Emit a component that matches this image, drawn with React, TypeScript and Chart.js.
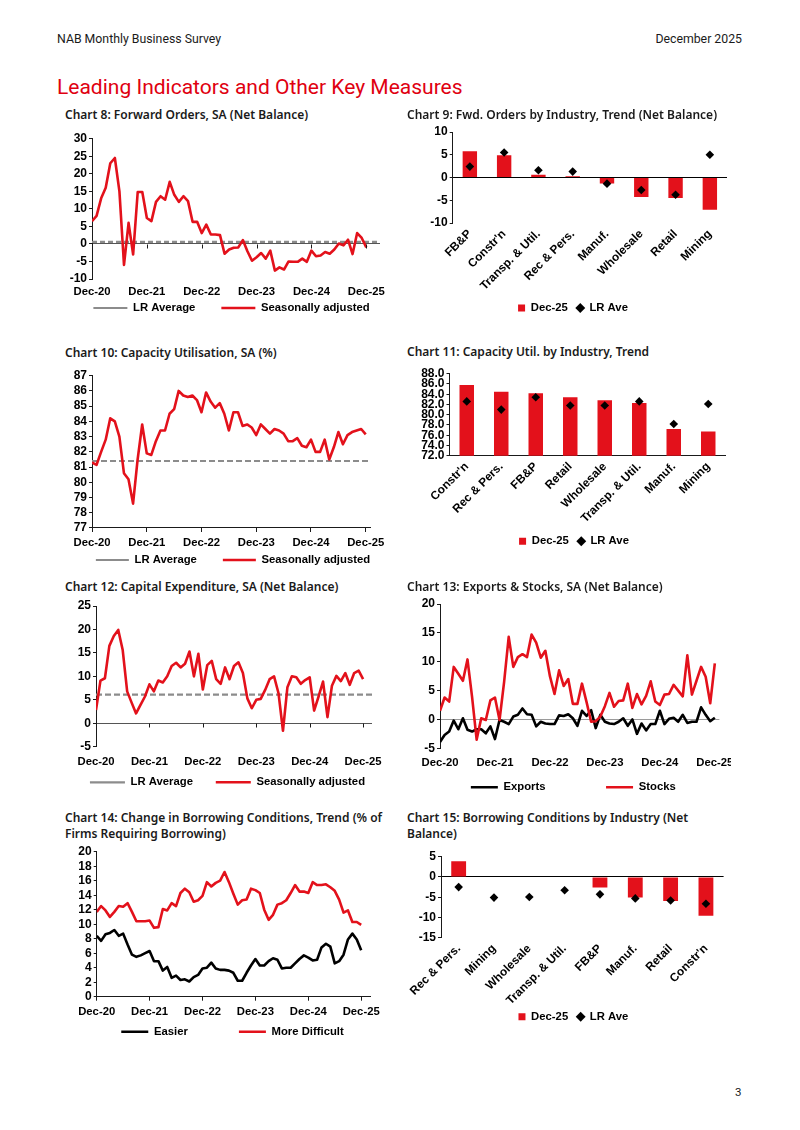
import React, { useEffect, useRef } from 'react';
import { Chart, registerables } from 'chart.js';

Chart.register(...registerables);

// ------------------------------------------------------------------ data
const yearTicks = ['Dec-20', 'Dec-21', 'Dec-22', 'Dec-23', 'Dec-24', 'Dec-25'];

// Chart 8: Forward orders, SA (monthly Dec-20 .. Dec-25)
const fwdOrdersSA = [6.5, 8, 13, 16, 23, 24.5, 15, -6, 6, -3, 14.8, 14.8, 7.4, 6.5, 12, 13.6, 12.6, 17.7, 14, 12,
  13.6, 12.2, 6.3, 6.3, 3.1, 5.5, 2.7, 2.7, 2.5, -2.8, -1.6, -1.1, -1, 1.1, -2.1, -4.8, -3.8, -2.6, -4.2, -1.9,
  -7.6, -6.7, -7.3, -5, -5.1, -5.1, -4.2, -5.1, -1.9, -3.5, -3.3, -2.3, -2.8, -1.6, 0.1, -0.4, 1.2, -2.9, 3.1, 1.7, -1];
const fwdOrdersLRAvg = 0.6;

// Chart 10: Capacity utilisation, SA
const capUtilSA = [81.3, 81.15, 82.0, 82.8, 84.2, 84.0, 83.0, 80.6, 80.2, 78.6, 81.5, 83.8, 81.9, 81.8, 82.7, 83.4, 83.4, 84.5, 84.8, 86.0,
  85.7, 85.6, 85.7, 85.4, 84.6, 85.9, 85.3, 84.9, 85.2, 84.5, 83.4, 84.6, 84.6, 83.7, 83.8, 83.6, 83.1, 83.8, 83.5, 83.2,
  83.5, 83.4, 83.2, 82.7, 82.7, 82.9, 82.4, 82.3, 82.8, 82.0, 82.0, 82.8, 81.5, 82.3, 83.3, 82.5, 83.1, 83.3, 83.4, 83.5, 83.15];
const capUtilLRAvg = 81.4;

// Chart 12: Capital expenditure, SA
const capexSA = [2.8, 9.1, 9.6, 16.5, 18.6, 19.9, 15.6, 6.8, 4.4, 2.1, 3.9, 5.7, 8.3, 6.8, 9.1, 8.7, 10, 12.2, 12.9, 11.9,
  12.7, 15.3, 10, 14.8, 7.2, 12.4, 13.3, 9.4, 8.4, 11.9, 9.4, 12.2, 13, 10.7, 5.3, 3.2, 5, 5.2, 7.1, 9.4,
  10, 6.4, -1.6, 7.7, 10, 9.8, 8.4, 9.2, 9.8, 2.7, 5.7, 8.9, 1.3, 8, 10.1, 9, 10.7, 8.2, 10.7, 11.2, 9.4];
const capexLRAvg = 6.1;

// Chart 13: Exports & stocks, SA
const exportsSA = [-3.9, -2.7, -2.1, -0.2, -1.7, 0.2, -1.8, -2.1, -1.7, -1.7, -2.4, -1.2, -3.4, -0.1, -0.4, -0.8, 0.5, 0.8, 1.9, 0.9,
  0.8, -1.2, -0.4, -0.7, -0.8, -0.8, 0.7, 0.6, 0.9, 0.2, -1.1, 1.5, 0.6, 1.6, -1.5, 0.8, -0.4, -0.7, -0.8, -0.4,
  0.2, -1.1, 0, -2.5, -0.7, -1.9, -0.8, -0.8, 1.5, -0.8, 0.1, 0.3, -0.4, 0.8, -0.6, -0.4, -0.4, 2.1, 0.8, -0.3, 0.3];
const stocksSA = [1.5, 3.8, 3.1, 9.1, 7.9, 6.7, 10.4, 3.9, -3.5, 0.2, -0.1, 3.3, 3.8, -0.1, 6.5, 14.3, 9.1, 10.8, 11.3, 10.8,
  14.7, 13.3, 10.7, 11.9, 7.5, 4.4, 8.5, 5.8, 7.0, 2.7, 2.7, 6.2, 3.0, -0.4, -0.3, 0.5, 2.3, 4.6, 2.2, 3.2,
  3.3, 6.2, 2.0, 4.4, 2.6, 4.1, 6.6, 3.1, 2.5, 4.3, 4.4, 6.0, 5.0, 4.0, 11.1, 4.3, 6.7, 9.1, 7.4, 2.8, 9.7];

// Chart 14: Change in borrowing conditions, trend
const borrowEasier = [8.4, 7.7, 8.6, 8.8, 9.2, 8.4, 8.7, 7.2, 5.8, 5.5, 5.7, 6.0, 6.3, 4.9, 4.9, 3.6, 4.1, 2.6, 2.9, 2.3,
  2.4, 2.1, 2.7, 3.0, 3.9, 4.0, 4.7, 3.9, 3.7, 3.7, 3.6, 3.3, 2.2, 2.2, 3.3, 4.3, 5.2, 4.3, 4.3, 4.9,
  5.3, 5.1, 3.9, 4.0, 4.0, 4.6, 5.2, 5.7, 5.4, 5.0, 5.1, 6.8, 7.3, 6.9, 4.6, 4.9, 5.8, 7.9, 8.7, 7.9, 6.4];
const borrowHarder = [11.7, 12.5, 11.9, 11.0, 11.7, 12.5, 12.4, 12.9, 11.7, 10.4, 10.4, 10.4, 10.5, 9.5, 9.6, 12.1, 11.9, 12.9, 12.5, 14.3,
  14.9, 14.4, 13.1, 13.3, 13.9, 15.8, 15.2, 15.7, 16.0, 17.2, 15.8, 14.2, 12.7, 13.3, 13.4, 14.9, 14.7, 14.3, 12.0, 10.6,
  11.3, 12.7, 12.9, 13.3, 14.3, 15.4, 14.5, 14.5, 14.3, 15.8, 15.4, 15.4, 15.5, 15.1, 14.6, 13.4, 11.6, 11.9, 10.3, 10.3, 9.9];

// Chart 9: Forward orders by industry
const fwdOrdIndustries = ['FB&P', "Constr'n", 'Transp. & Util.', 'Rec & Pers.', 'Manuf.', 'Wholesale', 'Retail', 'Mining'];
const fwdOrdDec25 = [5.75, 4.9, 0.6, 0.3, -1.3, -4.3, -4.5, -7.1];
const fwdOrdLRAve = [2.4, 5.5, 1.6, 1.3, -1.35, -2.75, -3.8, 5.0];

// Chart 11: Capacity utilisation by industry
const capUtilIndustries = ["Constr'n", 'Rec & Pers.', 'FB&P', 'Retail', 'Wholesale', 'Transp. & Util.', 'Manuf.', 'Mining'];
const capUtilDec25 = [85.8, 84.5, 84.2, 83.4, 82.8, 82.3, 77.2, 76.7];
const capUtilLRAve = [82.6, 81.0, 83.4, 81.8, 81.8, 82.6, 78.2, 82.1];

// Chart 15: Borrowing conditions by industry
const borrowIndustries = ['Rec & Pers.', 'Mining', 'Wholesale', 'Transp. & Util.', 'FB&P', 'Manuf.', 'Retail', "Constr'n"];
const borrowDec25 = [3.9, 0, 0, 0, -2.6, -5.1, -5.95, -9.6];
const borrowLRAve = [-2.5, -5.1, -4.95, -3.3, -4.3, -5.3, -5.8, -6.6];

// ------------------------------------------------------------------ style
const RED = '#e3111b';
const AXIS = '#1a1a1a';
const GREY_DASH = '#8c8c8c';
const FAMILY = "'Liberation Sans', Arial, Helvetica, sans-serif";
const FS = 11.3;
const LEG_PAD = 4;
const LINE_W = 2.6;
const TICK_FONT = { family: FAMILY, size: FS, weight: 'bold' as const };
const YTICK_FONT = { family: FAMILY, size: 12, weight: 'bold' as const };
const CAT_FONT = { family: FAMILY, size: 11.8, weight: 'bold' as const };

type Frame = { L: number; T: number; W: number; left: number; right: number; top: number; bottom: number; legendX: number; legendY: number };

// Positions the plot area exactly; the legend is then moved onto its own spot by legendPlacePlugin.
function geometry(f: Frame, pad: number, xH: number) {
  const legendH = FS + pad + 10;
  const H = Math.ceil(Math.max(f.bottom - f.T + xH + legendH, f.legendY - f.T + 10));
  const pb = f.T + H - legendH - xH - f.bottom;
  const pl = 2;
  const yW = f.left - f.L - pl;
  const pr = f.L + f.W - f.right;
  const pt = f.top - f.T;
  return {
    H, yW, xH,
    layout: { autoPadding: false, padding: { left: pl, right: pr, top: pt, bottom: pb } },
    place: { cx: f.legendX - f.L, cy: f.legendY - f.T, pad },
  };
}

const legendPlacePlugin = {
  id: 'legendPlace',
  afterLayout(chart: any, _args: any, opts: any) {
    const lg = chart.legend;
    if (!lg || opts.cx == null) return;
    const dx = opts.cx - (lg.left + lg.right) / 2;
    const dy = opts.cy - (lg.top + opts.pad + FS / 2);
    lg.left += dx; lg.right += dx; lg.top += dy; lg.bottom += dy;
  },
};

// gap: visible distance between the first entry's text and the second entry's symbol
function legendLabels(gap: number, styles?: (string | undefined)[]) {
  const spaces = Math.max(0, Math.round((gap - LEG_PAD) / (FS * 0.278)));
  return (chart: any) => {
    const items = (Chart as any).defaults.plugins.legend.labels.generateLabels(chart);
    items.sort((a: any, b: any) => a.datasetIndex - b.datasetIndex);
    items.forEach((it: any, i: number) => {
      const st = styles && styles[it.datasetIndex];
      if (st) it.pointStyle = st;
      if (i === 0 && items.length > 1) it.text = it.text + ' '.repeat(spaces);
    });
    return items;
  };
}

const zeroTicksPlugin = {
  id: 'zeroTicks',
  afterDatasetsDraw(chart: any, _args: any, opts: any) {
    if (!opts || !opts.length) return;
    const x = chart.scales.x;
    const y = chart.scales.y;
    const y0 = Math.round(y.getPixelForValue(0)) + 0.5;
    const ctx = chart.ctx;
    ctx.save();
    ctx.strokeStyle = opts.color;
    ctx.lineWidth = 1;
    for (const t of x.ticks) {
      const px = Math.round(x.getPixelForValue(t.value)) + 0.5;
      if (px < chart.chartArea.left + 2) continue;
      ctx.beginPath();
      ctx.moveTo(px, y0);
      ctx.lineTo(px, y0 + opts.length);
      ctx.stroke();
    }
    ctx.restore();
  },
};

const toXY = (arr: number[]) => arr.map((v, i) => ({ x: i, y: v }));
const flat = (v: number, xMax: number) => [{ x: 0, y: v }, { x: xMax, y: v }];

type LineSeries = { label: string; data: { x: number; y: number }[]; color: string; width: number; dash?: number[]; order: number };

type LineSpec = {
  frame: Frame; yMin: number; yMax: number; yStep: number; xMax: number; xPad: number;
  bottomAxis: boolean; zeroColor?: string; zeroTicks?: boolean; series: LineSeries[]; gap: number; sampleW: number;
};

function lineConfig(s: LineSpec) {
  const g = geometry(s.frame, LEG_PAD, 22);
  return {
    H: g.H,
    config: {
      type: 'line',
      data: {
        datasets: s.series.map((d) => ({
          label: d.label, data: d.data, borderColor: d.color, backgroundColor: d.color, borderWidth: d.width,
          borderDash: d.dash || [], pointRadius: 0, tension: 0, fill: false, order: d.order, borderJoinStyle: 'round',
        })),
      },
      plugins: [zeroTicksPlugin, legendPlacePlugin],
      options: {
        responsive: false, maintainAspectRatio: false, animation: false,
        layout: g.layout,
        plugins: {
          tooltip: { enabled: false },
          zeroTicks: s.zeroTicks ? { color: AXIS, length: 4 } : { length: 0 },
          legendPlace: g.place,
          legend: {
            display: true, position: 'bottom', align: 'center',
            labels: {
              usePointStyle: true, pointStyle: 'line', pointStyleWidth: s.sampleW, boxWidth: s.sampleW, boxHeight: FS,
              padding: LEG_PAD, color: '#000', font: TICK_FONT, generateLabels: legendLabels(s.gap),
            },
          },
        },
        scales: {
          x: {
            type: 'linear', min: 0, max: s.xMax,
            afterFit: (sc: any) => { sc.height = g.xH; sc.paddingLeft = 0; sc.paddingRight = 0; },
            border: { display: s.bottomAxis, color: AXIS, width: 1 },
            grid: { display: s.bottomAxis, drawOnChartArea: false, drawTicks: s.bottomAxis, tickLength: 4, tickColor: AXIS },
            ticks: {
              stepSize: 12, autoSkip: false, maxRotation: 0, minRotation: 0, includeBounds: false, padding: s.xPad,
              color: '#000', font: TICK_FONT, callback: (v: any) => yearTicks[Math.round(Number(v) / 12)] ?? '',
            },
          },
          y: {
            min: s.yMin, max: s.yMax,
            afterFit: (sc: any) => { sc.width = g.yW; sc.paddingTop = 0; sc.paddingBottom = 0; },
            border: { display: true, color: AXIS, width: 1 },
            grid: {
              drawOnChartArea: true, drawTicks: true, tickLength: 3, tickColor: AXIS, lineWidth: 1,
              color: (c: any) => (s.zeroColor && c.tick && c.tick.value === 0 ? s.zeroColor : 'rgba(0,0,0,0)'),
            },
            ticks: {
              stepSize: s.yStep, autoSkip: false, padding: 2, color: '#000', font: YTICK_FONT,
              callback: (v: any) => String(Math.round(Number(v))),
            },
          },
        },
      },
    },
  };
}

type BarSpec = {
  frame: Frame; yMin: number; yMax: number; yStep: number; decimals: number; zeroColor?: string; xBorder: boolean;
  labels: string[]; bars: number[]; marks: number[]; gap: number;
};

function barConfig(s: BarSpec) {
  const g = geometry(s.frame, s.gap, 70);
  return {
    H: g.H,
    config: {
      type: 'bar',
      data: {
        labels: s.labels,
        datasets: [
          { type: 'bar', label: 'Dec-25', data: s.bars, backgroundColor: RED, borderWidth: 0, categoryPercentage: 1, barPercentage: 0.42, order: 2 },
          { type: 'line', label: 'LR Ave', data: s.marks, showLine: false, pointStyle: 'rectRot', pointRadius: 4.3,
            backgroundColor: '#000', borderColor: '#000', borderWidth: 0, order: 1 },
        ],
      },
      plugins: [legendPlacePlugin],
      options: {
        responsive: false, maintainAspectRatio: false, animation: false,
        layout: g.layout,
        plugins: {
          tooltip: { enabled: false },
          legendPlace: g.place,
          legend: {
            display: true, position: 'bottom', align: 'center',
            labels: {
              usePointStyle: true, boxWidth: 7, boxHeight: 7, padding: s.gap, color: '#000', font: TICK_FONT,
              generateLabels: legendLabels(0, ['rect', 'rectRot']),
            },
          },
        },
        scales: {
          x: {
            type: 'category', offset: true,
            afterFit: (sc: any) => { sc.height = g.xH; sc.paddingLeft = 0; sc.paddingRight = 0; },
            border: { display: s.xBorder, color: AXIS, width: 1 },
            grid: { display: false, drawTicks: false },
            ticks: { autoSkip: false, minRotation: 45, maxRotation: 45, padding: 4, color: '#000', font: CAT_FONT },
          },
          y: {
            min: s.yMin, max: s.yMax,
            afterFit: (sc: any) => { sc.width = g.yW; sc.paddingTop = 0; sc.paddingBottom = 0; },
            border: { display: true, color: AXIS, width: 1 },
            grid: {
              drawOnChartArea: true, drawTicks: true, tickLength: 3, tickColor: AXIS, lineWidth: 1,
              color: (c: any) => (s.zeroColor && c.tick && c.tick.value === 0 ? s.zeroColor : 'rgba(0,0,0,0)'),
            },
            ticks: {
              stepSize: s.yStep, autoSkip: false, padding: 2, color: '#000', font: YTICK_FONT,
              callback: (v: any) => Number(v).toFixed(s.decimals),
            },
          },
        },
      },
    },
  };
}

// ------------------------------------------------------------------ chart specs (layout)
const chart8 = lineConfig({
  frame: { L: 55, T: 128, W: 340, left: 92, right: 380, top: 138.7, bottom: 279, legendX: 231.5, legendY: 308 },
  yMin: -10, yMax: 30, yStep: 5, xMax: 63, xPad: 6.2, bottomAxis: false, zeroColor: '#555', zeroTicks: true,
  series: [
    { label: 'LR Average', data: flat(fwdOrdersLRAvg, 63), color: GREY_DASH, width: 2.2, dash: [5, 3], order: 2 },
    { label: 'Seasonally adjusted', data: toXY(fwdOrdersSA), color: RED, width: LINE_W, order: 1 },
  ],
  gap: 25, sampleW: 34,
});

const chart10 = lineConfig({
  frame: { L: 55, T: 365, W: 340, left: 92, right: 370.3, top: 375.7, bottom: 528, legendX: 233, legendY: 560 },
  yMin: 77, yMax: 87, yStep: 1, xMax: 61, xPad: 4.2, bottomAxis: true,
  series: [
    { label: 'LR Average', data: flat(capUtilLRAvg, 61), color: GREY_DASH, width: 2.2, dash: [6, 3], order: 2 },
    { label: 'Seasonally adjusted', data: toXY(capUtilSA), color: RED, width: LINE_W, order: 1 },
  ],
  gap: 26.6, sampleW: 33,
});

const chart12 = lineConfig({
  frame: { L: 55, T: 596, W: 340, left: 96, right: 372, top: 606, bottom: 746.7, legendX: 227.5, legendY: 782.3 },
  yMin: -5, yMax: 25, yStep: 5, xMax: 62, xPad: 8.5, bottomAxis: false, zeroColor: '#555', zeroTicks: true,
  series: [
    { label: 'LR Average', data: flat(capexLRAvg, 62), color: GREY_DASH, width: 2.2, dash: [6, 3], order: 2 },
    { label: 'Seasonally adjusted', data: toXY(capexSA), color: RED, width: LINE_W, order: 1 },
  ],
  gap: 22.6, sampleW: 35,
});

const chart13 = lineConfig({
  frame: { L: 400, T: 594, W: 331, left: 440, right: 719.4, top: 604, bottom: 748.3, legendX: 573.3, legendY: 787.3 },
  yMin: -5, yMax: 20, yStep: 5, xMax: 61, xPad: 7.6, bottomAxis: false, zeroColor: '#9a9a9a',
  series: [
    { label: 'Exports', data: toXY(exportsSA), color: '#000', width: LINE_W, order: 2 },
    { label: 'Stocks', data: toXY(stocksSA), color: RED, width: LINE_W, order: 1 },
  ],
  gap: 59, sampleW: 27,
});

const chart14 = lineConfig({
  frame: { L: 55, T: 842, W: 340, left: 96.7, right: 370, top: 851.7, bottom: 996.7, legendX: 232.5, legendY: 1031.7 },
  yMin: 0, yMax: 20, yStep: 2, xMax: 62, xPad: 4.2, bottomAxis: true,
  series: [
    { label: 'Easier', data: toXY(borrowEasier), color: '#000', width: LINE_W, order: 2 },
    { label: 'More Difficult', data: toXY(borrowHarder), color: RED, width: LINE_W, order: 1 },
  ],
  gap: 51.6, sampleW: 27,
});

const chart9 = barConfig({
  frame: { L: 400, T: 122, W: 340, left: 452.7, right: 727, top: 132, bottom: 223, legendX: 573, legendY: 308 },
  yMin: -10, yMax: 10, yStep: 5, decimals: 0, zeroColor: '#000', xBorder: false,
  labels: fwdOrdIndustries, bars: fwdOrdDec25, marks: fwdOrdLRAve, gap: 9,
});

const chart11 = barConfig({
  frame: { L: 400, T: 364, W: 340, left: 449.5, right: 725.5, top: 373.7, bottom: 455.7, legendX: 574, legendY: 541.3 },
  yMin: 72, yMax: 88, yStep: 2, decimals: 1, xBorder: true,
  labels: capUtilIndustries, bars: capUtilDec25, marks: capUtilLRAve, gap: 9,
});

const chart15 = barConfig({
  frame: { L: 400, T: 846, W: 340, left: 441, right: 723.6, top: 856.7, bottom: 937.7, legendX: 573.4, legendY: 1016.7 },
  yMin: -15, yMax: 5, yStep: 5, decimals: 0, zeroColor: '#000', xBorder: false,
  labels: borrowIndustries, bars: borrowDec25, marks: borrowLRAve, gap: 9,
});

const CHARTS = [
  { id: 'c8', L: 55, T: 128, W: 340, built: chart8 },
  { id: 'c9', L: 400, T: 122, W: 340, built: chart9 },
  { id: 'c10', L: 55, T: 365, W: 340, built: chart10 },
  { id: 'c11', L: 400, T: 364, W: 340, built: chart11 },
  { id: 'c12', L: 55, T: 596, W: 340, built: chart12 },
  { id: 'c13', L: 400, T: 594, W: 331, built: chart13 },
  { id: 'c14', L: 55, T: 842, W: 340, built: chart14 },
  { id: 'c15', L: 400, T: 846, W: 340, built: chart15 },
];

const TITLES = [
  { x: 65, y: 115, lines: ['Chart 8: Forward Orders, SA (Net Balance)'] },
  { x: 407, y: 115, lines: ['Chart 9: Fwd. Orders by Industry, Trend (Net Balance)'] },
  { x: 65, y: 353, lines: ['Chart 10: Capacity Utilisation, SA (%)'] },
  { x: 407, y: 352, lines: ['Chart 11: Capacity Util. by Industry, Trend'] },
  { x: 65, y: 587, lines: ['Chart 12: Capital Expenditure, SA (Net Balance)'] },
  { x: 407, y: 587, lines: ['Chart 13: Exports & Stocks, SA (Net Balance)'] },
  { x: 65, y: 818.3, lines: ['Chart 14: Change in Borrowing Conditions, Trend (% of', 'Firms Requiring Borrowing)'] },
  { x: 407, y: 818.3, lines: ['Chart 15: Borrowing Conditions by Industry (Net', 'Balance)'] },
];

function ChartCanvas({ L, T, W, built }: { L: number; T: number; W: number; built: { H: number; config: any } }) {
  const ref = useRef<HTMLCanvasElement>(null);
  useEffect(() => {
    const chart = new Chart(ref.current as HTMLCanvasElement, built.config);
    return () => chart.destroy();
  }, []);
  return (
    <canvas
      ref={ref}
      width={W}
      height={built.H}
      style={{ position: 'absolute', left: L, top: T, width: W, height: built.H }}
    />
  );
}

export default function App() {
  const pageFont = "Roboto, 'Noto Sans', sans-serif";
  return (
    <div style={{ position: 'absolute', left: 0, top: 0, width: 800, height: 1130, background: '#fff', overflow: 'hidden' }}>
      <div style={{ position: 'absolute', left: 57, top: 31, fontFamily: pageFont, fontSize: 12.3, lineHeight: '16px', color: '#1a1a1a' }}>
        NAB Monthly Business Survey
      </div>
      <div style={{ position: 'absolute', right: 58, top: 31, fontFamily: pageFont, fontSize: 12.3, lineHeight: '16px', color: '#1a1a1a' }}>
        December 2025
      </div>
      <div style={{ position: 'absolute', left: 57, top: 74, fontFamily: pageFont, fontSize: 21, lineHeight: '26px', color: '#e00010' }}>
        Leading Indicators and Other Key Measures
      </div>
      {CHARTS.map((c) => (
        <ChartCanvas key={c.id} L={c.L} T={c.T} W={c.W} built={c.built} />
      ))}
      {TITLES.map((t, i) => (
        <div
          key={i}
          style={{
            position: 'absolute', left: t.x, top: t.y - 8, fontFamily: "'Noto Sans', sans-serif", fontWeight: 600,
            fontSize: 12, lineHeight: '16px', color: '#1a1a1a', whiteSpace: 'nowrap',
          }}
        >
          {t.lines.map((ln, j) => (
            <div key={j}>{ln}</div>
          ))}
        </div>
      ))}
      <div style={{ position: 'absolute', left: 735, top: 1084, fontFamily: pageFont, fontSize: 11.5, lineHeight: '16px', color: '#1a1a1a' }}>
        3
      </div>
    </div>
  );
}
